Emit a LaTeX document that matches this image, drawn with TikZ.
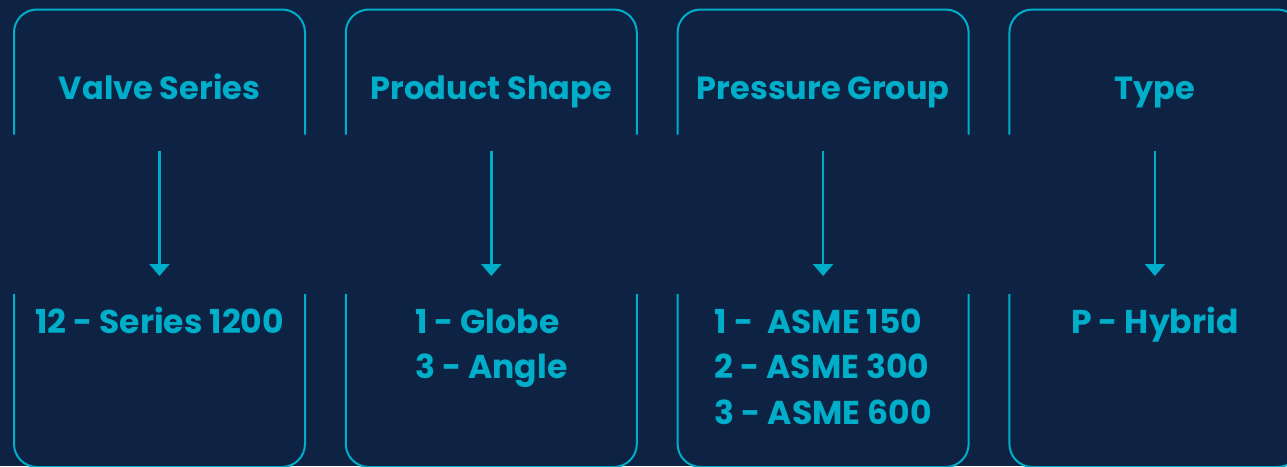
\documentclass[tikz,border=0pt]{standalone}
\usepackage{fontspec}
\setmainfont{Poppins}
\usetikzlibrary{arrows.meta}
\definecolor{navy}{HTML}{0E2343}
\definecolor{teal}{HTML}{00AECA}

\begin{document}
\begin{tikzpicture}[x=1pt,y=-1pt,
   boxline/.style={draw=teal,line width=2pt,rounded corners=23pt},
   title/.style={text=teal,font=\bfseries\fontsize{32}{38}\selectfont,anchor=base,inner sep=0pt},
   entry/.style={text=teal,font=\bfseries\fontsize{33}{45.5}\selectfont,anchor=base,align=left,inner sep=0pt},
   flow/.style={draw=teal,line width=2.5pt,-{Triangle[width=20pt,length=12pt]}}]
\fill[navy] (0,0) rectangle (1287,466);
\useasboundingbox (0,0) rectangle (1287,466);
\begin{scope}
\clip (0,0) rectangle (1287,466);
\foreach \name/\head/\list/\extra [count=\i from 0] in {
      series/Valve Series/{12 - Series 1200}/0,
      shape/Product Shape/{1 - Globe\\3 - Angle}/1,
      group/Pressure Group/{1 -\ \ ASME 150\\2 - ASME 300\\3 - ASME 600}/2,
      type/Type/{P - Hybrid}/0}{
  \pgfmathsetmacro\cx{159.5+331.8*\i}
  \pgfmathsetmacro\by{333+45.5*\extra}
  % top box, open below
  \draw[boxline] (\cx-145.5,134.5) -- (\cx-145.5,9.5) -- (\cx+145.5,9.5) -- (\cx+145.5,134.5);
  % bottom box, open above
  \draw[boxline] (\cx-145.5,294) -- (\cx-145.5,467) -- (\cx+145.5,467) -- (\cx+145.5,294);
  \node[title] (\name-head) at (\cx,99) {\head};
  \node[entry] (\name-list) at (\cx,\by) {\list};
  \coordinate (\name-from) at (\cx,151);
  \coordinate (\name-to) at (\cx,276);
  \draw[flow] (\name-from) -- (\name-to);
}
\end{scope}
\end{tikzpicture}
\end{document}
